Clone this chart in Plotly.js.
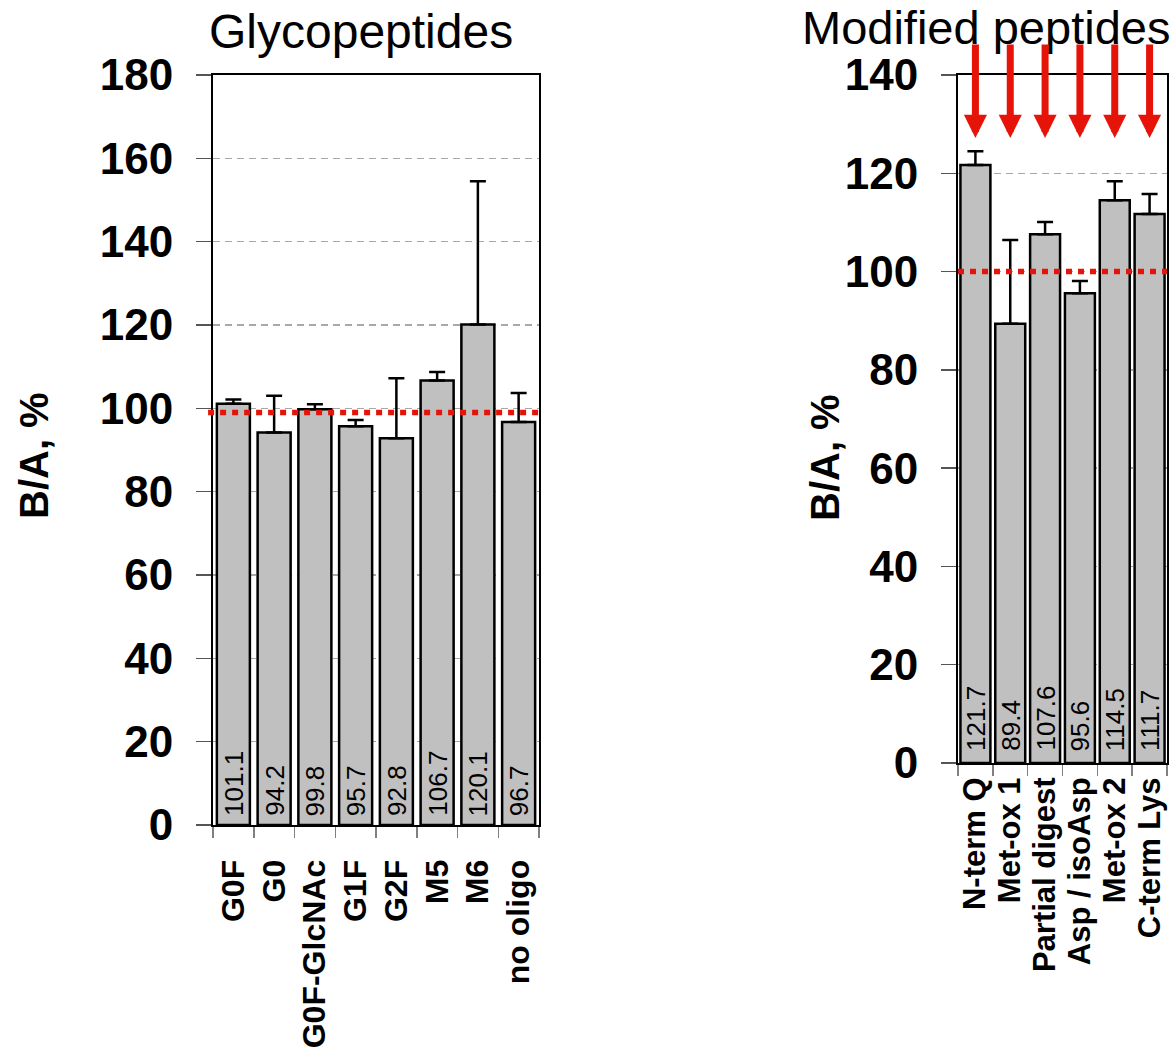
<!DOCTYPE html>
<html>
<head>
<meta charset="utf-8">
<script src="https://cdn.plot.ly/plotly-3.0.1.min.js"></script>
<style>
  html, body { margin: 0; padding: 0; background: #fff; }
  #chart { width: 1175px; height: 1057px; }
</style>
</head>
<body>
<div id="chart"></div>
<script>
// Glycopeptide ratios (B/A, %) with upper error
const glycoCategories = ['G0F', 'G0', 'G0F-GlcNAc', 'G1F', 'G2F', 'M5', 'M6', 'no oligo'];
const glycoValues = [101.1, 94.2, 99.8, 95.7, 92.8, 106.7, 120.1, 96.7];
const glycoErrUp = [1.0, 8.8, 1.2, 1.5, 14.4, 2.0, 34.4, 7.0];
const glycoRefLevel = 99;

// Modified peptide ratios (B/A, %) with upper error
const modCategories = ['N-term Q', 'Met-ox 1', 'Partial digest', 'Asp / isoAsp', 'Met-ox 2', 'C-term Lys'];
const modValues = [121.7, 89.4, 107.6, 95.6, 114.5, 111.7];
const modErrUp = [2.8, 17.0, 2.5, 2.5, 3.9, 4.1];
const modRefLevel = 100;

// Arrow extent for the modified-peptide markers (data units)
const arrowTail = 146.5;
const arrowTip = 127.2;

const FONT = 'Liberation Sans, Arial, sans-serif';
const RED = '#e61408';
const W = 1175, H = 1057;

function barTrace(cats, vals, errs, xa, ya, width) {
  return {
    type: 'bar',
    x: cats,
    y: vals,
    xaxis: xa,
    yaxis: ya,
    width: width,
    marker: { color: '#c0c0c0', line: { color: '#000', width: 2.5 } },
    error_y: {
      type: 'data', symmetric: false,
      array: errs, arrayminus: errs.map(() => 0),
      color: '#000', thickness: 2.5, width: 8
    },
    hoverinfo: 'x+y',
    showlegend: false
  };
}

const data = [
  barTrace(glycoCategories, glycoValues, glycoErrUp, 'x', 'y', 0.81),
  barTrace(modCategories, modValues, modErrUp, 'x2', 'y2', 0.86)
];

function yAxis(range, domain, anchor) {
  return {
    domain: domain,
    anchor: anchor,
    range: range,
    dtick: 20,
    tick0: 0,
    showline: true, linecolor: '#000', linewidth: 2, mirror: true,
    ticks: 'outside', ticklen: 15, tickwidth: 1.5, tickcolor: '#555',
    ticklabelstandoff: 14,
    tickfont: { family: FONT, size: 44, color: '#000', weight: 'bold' },
    showgrid: true, gridcolor: '#a8a8a8', gridwidth: 1.5, griddash: '7px,5px',
    zeroline: false,
    fixedrange: true
  };
}

function xAxis(cats, domain, anchor, standoff, size) {
  return {
    domain: domain,
    anchor: anchor,
    type: 'category',
    tickmode: 'array',
    tickvals: cats,
    ticktext: cats,
    showline: true, linecolor: '#000', linewidth: 2, mirror: true,
    ticks: 'outside', tickson: 'boundaries', ticklen: 11, tickwidth: 1.5, tickcolor: '#808080',
    tickangle: -90,
    ticklabelstandoff: standoff,
    tickfont: { family: FONT, size: size, color: '#000', weight: 'bold' },
    showgrid: false,
    zeroline: false,
    fixedrange: true
  };
}

const annotations = [
  { text: 'Glycopeptides', xref: 'paper', yref: 'paper', x: 361 / W, y: 1 - 31 / H,
    xanchor: 'center', yanchor: 'middle', showarrow: false,
    font: { family: FONT, size: 48, color: '#000' } },
  { text: 'Modified peptides', xref: 'paper', yref: 'paper', x: 986 / W, y: 1 - 27 / H,
    xanchor: 'center', yanchor: 'middle', showarrow: false,
    font: { family: FONT, size: 47, color: '#000' } },
  { text: 'B/A, %', xref: 'paper', yref: 'paper', x: 34 / W, y: 1 - 456 / H,
    xanchor: 'center', yanchor: 'middle', textangle: -90, showarrow: false,
    font: { family: FONT, size: 40, color: '#000', weight: 'bold' } },
  { text: 'B/A, %', xref: 'paper', yref: 'paper', x: 825 / W, y: 1 - 458 / H,
    xanchor: 'center', yanchor: 'middle', textangle: -90, showarrow: false,
    font: { family: FONT, size: 40, color: '#000', weight: 'bold' } }
];

// Value labels written upward from the foot of each bar
function valueLabels(cats, vals, xa, ya, lift) {
  cats.forEach((c, i) => {
    annotations.push({
      text: vals[i].toFixed(1), xref: xa, yref: ya, x: c, y: 0,
      xanchor: 'center', yanchor: 'bottom', yshift: lift, textangle: -90,
      showarrow: false, borderpad: 0,
      font: { family: FONT, size: 26, color: '#000' }
    });
  });
}
valueLabels(glycoCategories, glycoValues, 'x', 'y', 8);
valueLabels(modCategories, modValues, 'x2', 'y2', 11);

// Downward red arrows above each modified peptide
modCategories.forEach(c => {
  annotations.push({
    text: '', xref: 'x2', yref: 'y2', x: c, y: arrowTip,
    axref: 'x2', ayref: 'y2', ax: c, ay: arrowTail,
    showarrow: true, arrowhead: 2, arrowsize: 0.66, arrowwidth: 7,
    arrowcolor: RED, standoff: 0
  });
});

const shapes = [
  { type: 'line', xref: 'x domain', yref: 'y', x0: -0.015, x1: 1, y0: glycoRefLevel, y1: glycoRefLevel,
    line: { color: RED, width: 5.5, dash: '6px,6px' }, layer: 'above' },
  { type: 'line', xref: 'x2 domain', yref: 'y2', x0: 0, x1: 1, y0: modRefLevel, y1: modRefLevel,
    line: { color: RED, width: 5.5, dash: '6px,6px' }, layer: 'above' }
];

const layout = {
  width: W,
  height: H,
  margin: { l: 0, r: 0, t: 0, b: 0 },
  paper_bgcolor: '#fff',
  plot_bgcolor: '#fff',
  font: { family: FONT, color: '#000' },
  showlegend: false,
  xaxis: xAxis(glycoCategories, [213 / W, 539 / W], 'y', 20, 32),
  yaxis: yAxis([0, 180], [1 - 825 / H, 1 - 75 / H], 'x'),
  xaxis2: xAxis(modCategories, [958 / W, 1167 / W], 'y2', 0, 31),
  yaxis2: yAxis([0, 140], [1 - 763 / H, 1 - 75 / H], 'x2'),
  annotations: annotations,
  shapes: shapes
};

Plotly.newPlot('chart', data, layout, { displayModeBar: false, staticPlot: true });
</script>
</body>
</html>
